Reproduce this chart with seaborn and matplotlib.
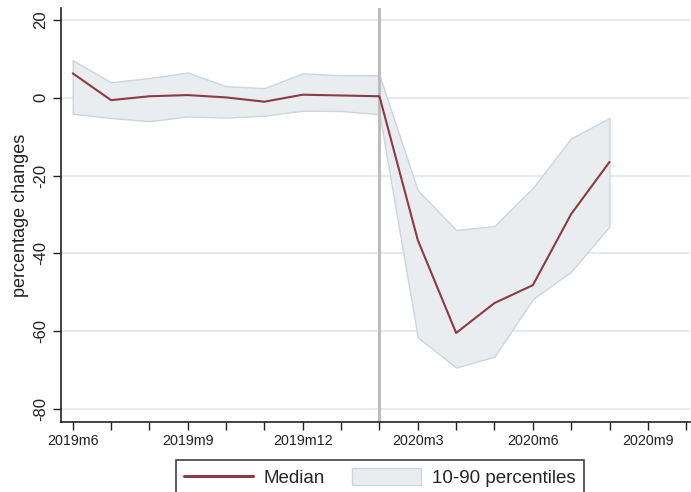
import numpy as np
import pandas as pd
import matplotlib
matplotlib.use("Agg")
import matplotlib.pyplot as plt
import seaborn as sns
from matplotlib.patches import Patch
from matplotlib.lines import Line2D

# Monthly series, 2019m6 .. 2020m8
months = ["2019m6", "2019m7", "2019m8", "2019m9", "2019m10", "2019m11", "2019m12",
          "2020m1", "2020m2", "2020m3", "2020m4", "2020m5", "2020m6", "2020m7", "2020m8"]
median = [6.3, -0.6, 0.4, 0.7, 0.1, -1.0, 0.8, 0.6, 0.4, -36.6, -60.5, -52.8, -48.2, -29.9, -16.5]
p90 = [9.7, 4.0, 5.1, 6.5, 3.0, 2.5, 6.3, 5.8, 5.8, -23.8, -34.0, -33.0, -23.2, -10.4, -5.2]
p10 = [-4.1, -5.2, -6.0, -4.8, -5.1, -4.6, -3.3, -3.4, -4.2, -61.6, -69.4, -66.6, -51.8, -44.7, -33.1]

# Axis tick labels (every month ticked, every third labelled) up to 2020m10
tick_months = months + ["2020m9", "2020m10"]
label_every = 3
event_month = "2020m2"

df = pd.DataFrame({"t": np.arange(len(months)), "month": months,
                   "median": median, "p10": p10, "p90": p90})

sns.set_style("ticks")
plt.rcParams["font.family"] = ["Liberation Sans", "DejaVu Sans"]

fig = plt.figure(figsize=(6.91, 4.92), dpi=100)
ax = fig.add_axes([0.0883, 0.1423, 0.9103, 0.8414])

grid_col = "#E5ECF0"
band_face = "#E9EDF0"
band_edge = "#CCD6DE"
line_col = "#8C3A44"

for yv in [-80, -60, -40, -20, 0, 20]:
    ax.axhline(yv, color=grid_col, lw=1.5, zorder=0)

ax.fill_between(df["t"], df["p10"], df["p90"], facecolor=band_face,
                edgecolor=band_edge, lw=1.0, zorder=1)
sns.lineplot(data=df, x="t", y="median", color=line_col, lw=1.5, ax=ax, zorder=3)

ax.axvline(months.index(event_month), color="#BDBDBD", lw=2.2, zorder=2)

ax.set_xlim(-0.305, 16.1)
ax.set_ylim(-83.4, 23.1)

ticks = np.arange(len(tick_months))
ax.set_xticks(ticks)
ax.set_xticklabels([m if i % label_every == 0 else "" for i, m in enumerate(tick_months)],
                   fontsize=10.3, color="#222222")
ax.set_yticks([-80, -60, -40, -20, 0, 20])
ax.set_yticklabels(["-80", "-60", "-40", "-20", "0", "20"], rotation=90,
                   va="center", fontsize=12, color="#222222")
ax.tick_params(axis="both", direction="out", length=6, width=1.0, color="#222222")
ax.tick_params(axis="x", pad=3)
ax.tick_params(axis="y", pad=3)

ax.set_xlabel("")
ax.set_ylabel("percentage changes", fontsize=13, color="#222222", labelpad=3)

for side in ["top", "right"]:
    ax.spines[side].set_visible(False)
for side in ["left", "bottom"]:
    ax.spines[side].set_color("#222222")
    ax.spines[side].set_linewidth(1.2)

handles = [Line2D([0], [0], color=line_col, lw=2.2),
           Patch(facecolor=band_face, edgecolor=band_edge, lw=1.0)]
leg = fig.legend(handles, ["Median", "10-90 percentiles"], ncol=2,
                 loc="upper left", bbox_to_anchor=(175.7 / 691, 1 - 460 / 492),
                 borderaxespad=0.0, frameon=True, fancybox=False, fontsize=13.5,
                 handlelength=3.65, handleheight=0.96, columnspacing=1.45,
                 borderpad=0.45, handletextpad=0.6)
leg.get_frame().set_edgecolor("#111111")
leg.get_frame().set_linewidth(1.2)

fig.savefig("out.png", dpi=100)
